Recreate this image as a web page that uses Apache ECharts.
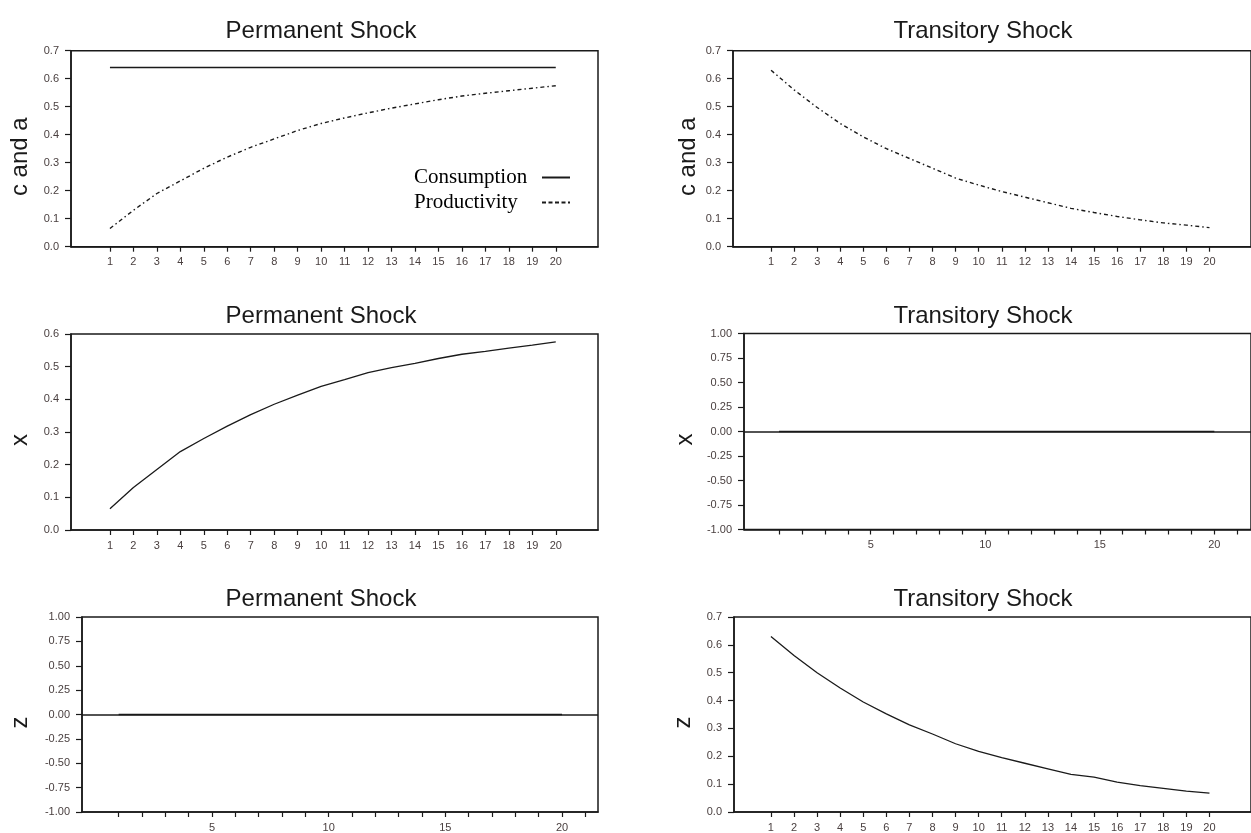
<!DOCTYPE html>
<html>
<head>
<meta charset="utf-8">
<script src="https://cdn.jsdelivr.net/npm/echarts@6/dist/echarts.min.js"></script>
<style>
html,body{margin:0;padding:0;background:#fff;}
#main{width:1251px;height:833px;}
</style>
</head>
<body>
<div id="main"></div>
<script>
// ---- data ----
const periods = [1,2,3,4,5,6,7,8,9,10,11,12,13,14,15,16,17,18,19,20];
const consumptionPerm = [0.64,0.64,0.64,0.64,0.64,0.64,0.64,0.64,0.64,0.64,0.64,0.64,0.64,0.64,0.64,0.64,0.64,0.64,0.64,0.64];
const productivityPerm = [0.065,0.13,0.19,0.235,0.28,0.32,0.355,0.385,0.415,0.44,0.46,0.478,0.495,0.51,0.525,0.538,0.548,0.557,0.566,0.575];
const productivityTrans = [0.63,0.56,0.497,0.44,0.392,0.35,0.315,0.28,0.245,0.22,0.197,0.177,0.157,0.137,0.122,0.108,0.096,0.085,0.077,0.068];
const xPerm = [0.065,0.13,0.185,0.24,0.28,0.318,0.353,0.385,0.413,0.44,0.46,0.482,0.497,0.51,0.525,0.538,0.547,0.557,0.566,0.576];
const xTrans = [0,0,0,0,0,0,0,0,0,0,0,0,0,0,0,0,0,0,0,0];
const zPerm = [0,0,0,0,0,0,0,0,0,0,0,0,0,0,0,0,0,0,0,0];
const zTrans = [0.63,0.562,0.5,0.445,0.395,0.352,0.313,0.28,0.245,0.218,0.195,0.175,0.155,0.135,0.125,0.107,0.095,0.085,0.075,0.068];
const minorTicks = [1,2,3,4,5,6,7,8,9,10,11,12,13,14,15,16,17,18,19,20,21];
const majorLabels = [5,10,15,20];
const titles = ['Permanent Shock','Transitory Shock','Permanent Shock','Transitory Shock','Permanent Shock','Transitory Shock'];
const yNames = ['c and a','c and a','x','x','z','z'];

// ---- layout ----
const panels = [
  {left:71,  top:50.7, w:527, h:196, xmin:-0.66, xmax:21.8, ymin:0, ymax:0.7, yint:0.1, dec:1, every:true, gap:39, tx:316, ty:14},
  {left:733, top:50.7, w:531, h:196, xmin:-0.65, xmax:21.8, ymin:0, ymax:0.7, yint:0.1, dec:1, every:true, gap:33, tx:978, ty:14},
  {left:71,  top:334,  w:527, h:196, xmin:-0.66, xmax:21.8, ymin:0, ymax:0.6, yint:0.1, dec:1, every:true, gap:39, tx:316, ty:299},
  {left:744, top:333.5,w:516, h:196, xmin:-0.53, xmax:21.6, ymin:-1, ymax:1, yint:0.25, dec:2, every:false, gap:47, tx:978, ty:299},
  {left:82,  top:617,  w:516, h:196, xmin:-0.57, xmax:21.54, ymin:-1, ymax:1, yint:0.25, dec:2, every:false, gap:50, tx:316, ty:582},
  {left:734, top:617,  w:530, h:196, xmin:-0.6, xmax:21.8, ymin:0, ymax:0.7, yint:0.1, dec:1, every:true, gap:39, tx:978, ty:582}
];

const ink = '#1a1a1a';
const tickColor = '#4a4040';
const pair = arr => periods.map((p,i)=>[p, arr[i]]);

const option = {
  animation:false,
  backgroundColor:'#fff',
  title: panels.map((p,i)=>({
    text: titles[i], left: p.tx, top: p.ty, textAlign:'center',
    textStyle:{fontFamily:'Liberation Sans, Arial', fontSize:24, fontWeight:'normal', color:ink}
  })),
  legend:{
    data:[{name:'Consumption'}, {name:'Productivity', lineStyle:{type:[4,2.5]}}],
    orient:'vertical', left:414, top:167, align:'right', padding:0,
    itemWidth:28, itemHeight:14, itemGap:4,
    itemStyle:{opacity:0, borderWidth:0},
    formatter: name => '{t|' + name + '}',
    textStyle:{fontFamily:'Liberation Serif, Times New Roman', fontSize:21, color:'#000',
      rich:{t:{width:123, align:'left', fontFamily:'Liberation Serif, Times New Roman', fontSize:21, color:'#000'}}}
  },
  grid: panels.map(p=>({left:p.left, top:p.top, width:p.w, height:p.h, show:true, borderColor:ink, borderWidth:1.5, containLabel:false})),
  xAxis: panels.map((p,i)=>({
    type:'value', gridIndex:i, min:p.xmin, max:p.xmax,
    axisLine:{show:true, onZero:false, lineStyle:{color:ink, width:1.5}},
    axisTick:{show:true, inside:false, length:5, lineStyle:{color:ink, width:1.2}, customValues: p.every ? periods : minorTicks},
    axisLabel:{show:true, margin:10, fontFamily:'Liberation Sans, Arial', fontSize:11, color:tickColor, customValues: p.every ? periods : majorLabels},
    splitLine:{show:false}
  })),
  yAxis: panels.map((p,i)=>({
    type:'value', gridIndex:i, min:p.ymin, max:p.ymax, interval:p.yint,
    name: yNames[i], nameLocation:'middle', nameRotate:90, nameGap:p.gap,
    nameTextStyle:{fontFamily:'Liberation Sans, Arial', fontSize:24, color:ink, padding:[0,16,0,0]},
    axisLine:{show:true, onZero:false, lineStyle:{color:ink, width:1.5}},
    axisTick:{show:true, inside:false, length:6, lineStyle:{color:ink, width:1.2}},
    axisLabel:{show:true, margin:12, fontFamily:'Liberation Sans, Arial', fontSize:11, color:tickColor,
      formatter: v => Number(v).toFixed(p.dec)},
    splitLine:{show:false}
  })),
  series: [
    {name:'Consumption', type:'line', xAxisIndex:0, yAxisIndex:0, data:pair(consumptionPerm), symbol:'none', lineStyle:{color:ink, width:1.4, type:'solid'}, itemStyle:{color:ink}},
    {name:'Productivity', type:'line', xAxisIndex:0, yAxisIndex:0, data:pair(productivityPerm), symbol:'none', lineStyle:{color:ink, width:1.4, type:[4,3,1.5,3]}, itemStyle:{color:ink}},
    {name:'Productivity (T)', type:'line', xAxisIndex:1, yAxisIndex:1, data:pair(productivityTrans), symbol:'none', lineStyle:{color:ink, width:1.4, type:[4,3,1.5,3]}},
    {name:'x (P)', type:'line', xAxisIndex:2, yAxisIndex:2, data:pair(xPerm), symbol:'none', lineStyle:{color:ink, width:1.3}},
    {name:'x (T)', type:'line', xAxisIndex:3, yAxisIndex:3, data:pair(xTrans), symbol:'none', lineStyle:{color:ink, width:1.5},
      markLine:{silent:true, symbol:'none', label:{show:false}, lineStyle:{color:ink, width:1.5, type:'solid'}, data:[{yAxis:0}]}},
    {name:'z (P)', type:'line', xAxisIndex:4, yAxisIndex:4, data:pair(zPerm), symbol:'none', lineStyle:{color:ink, width:1.5},
      markLine:{silent:true, symbol:'none', label:{show:false}, lineStyle:{color:ink, width:1.5, type:'solid'}, data:[{yAxis:0}]}},
    {name:'z (T)', type:'line', xAxisIndex:5, yAxisIndex:5, data:pair(zTrans), symbol:'none', lineStyle:{color:ink, width:1.3}}
  ]
};

const chart = echarts.init(document.getElementById('main'), null, {renderer:'canvas'});
chart.setOption(option);
</script>
</body>
</html>
